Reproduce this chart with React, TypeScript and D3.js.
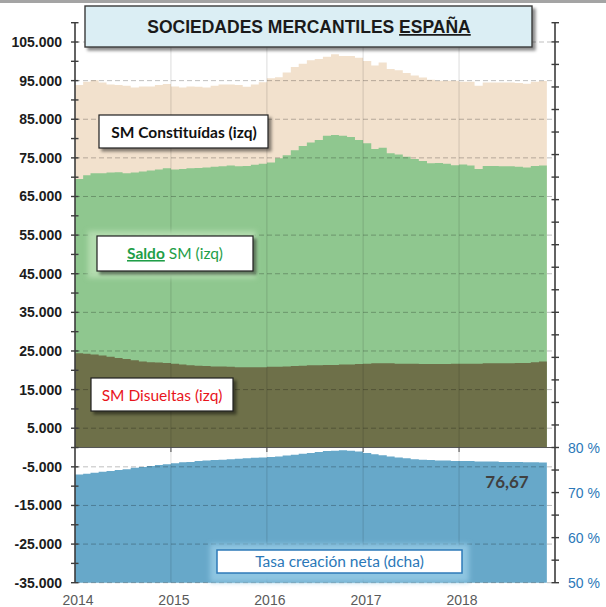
import React, { useEffect, useRef } from 'react';
import * as d3 from 'd3';

// monthly data, Jan 2014 - Nov 2018 (12-month rolling)
const firstMonth = new Date(2014, 0, 1);
const stopMonth = new Date(2018, 11, 1);
const yearLabels = ['2014', '2015', '2016', '2017', '2018'];

const constituidas = [
  93900, 94700, 95100, 94500, 94000, 93900, 93700, 93200, 93500, 93500, 93900, 94100,
  93500, 93200, 93500, 93400, 93200, 93700, 94000, 94000, 93900, 93400, 94000, 94600,
  95600, 95900, 97100, 98500, 99400, 100300, 100600, 101200, 101800, 101400, 101400, 100900,
  100100, 98900, 99700, 98000, 97700, 97000, 96300, 95800, 95200, 95000, 95000, 95000,
  94700, 94700, 93700, 94500, 94500, 94500, 94500, 94400, 94200, 94700, 94900
];

const saldo = [
  69500, 70500, 71000, 71000, 71200, 71300, 71000, 71200, 71500, 71700, 72000, 72300,
  72000, 72100, 72300, 72400, 72500, 72700, 72800, 73000, 72800, 72900, 73200, 73500,
  73800, 74900, 75700, 77000, 78100, 79000, 79600, 80700, 80900, 80700, 80400, 79600,
  78800, 77300, 77600, 76200, 75900, 75300, 74700, 74200, 73600, 73700, 73500, 73100,
  73300, 73000, 72100, 72900, 72900, 72800, 72800, 72700, 72500, 72900, 73000
];

const disueltas = [
  24400, 24300, 24100, 23800, 23500, 23200, 22900, 22600, 22300, 22100, 22000, 21900,
  21700, 21500, 21300, 21200, 21100, 21000, 21000, 20900, 20800, 20800, 20800, 20800,
  20900, 20900, 21000, 21100, 21200, 21300, 21300, 21400, 21400, 21500, 21500, 21600,
  21700, 21800, 21800, 21800, 21700, 21700, 21700, 21600, 21600, 21600, 21600, 21700,
  21700, 21700, 21700, 21800, 21800, 21800, 21800, 21900, 21900, 22100, 22300
];

// tasa de creación neta (%), eje derecho
const tasa = [
  74.0, 74.2, 74.4, 74.6, 74.8, 75.0, 75.2, 75.5, 75.7, 75.9, 76.1, 76.3,
  76.5, 76.7, 76.8, 77.0, 77.1, 77.2, 77.3, 77.4, 77.5, 77.6, 77.7, 77.8,
  77.9, 78.0, 78.2, 78.4, 78.6, 78.8, 79.0, 79.2, 79.3, 79.4, 79.3, 79.1,
  78.8, 78.5, 78.3, 78.0, 77.8, 77.6, 77.4, 77.3, 77.2, 77.1, 77.1, 77.0,
  77.0, 77.0, 76.9, 76.9, 76.9, 76.8, 76.8, 76.8, 76.7, 76.7, 76.67
];
const lastTasaLabel = '76,67';

const leftTickLabels = [105000, 95000, 85000, 75000, 65000, 55000, 45000, 35000, 25000, 15000, 5000, -5000, -15000, -25000, -35000];
const rightTickLabels = [80, 70, 60, 50];

const esLocale = d3.formatLocale({ decimal: ',', thousands: '.', grouping: [3], currency: ['', '€'], minus: '-' });
const fmt = esLocale.format(',');

export default function App() {
  const ref = useRef<SVGSVGElement>(null);

  useEffect(() => {
    const svg = d3.select(ref.current);
    svg.selectAll('*').remove();

    const x = d3.scaleTime().domain([new Date(2014, 0, 1), new Date(2019, 0, 1)]).range([75, 555]);
    const y = d3.scaleLinear().domain([-35000, 110000]).range([582.7, 22.7]);
    const yR = d3.scaleLinear().domain([50, 80]).range([582.7, 447.5]);

    const months = d3.timeMonth.range(firstMonth, stopMonth);
    const pts = (vals: number[]) =>
      months.map((m, i) => ({ d: m, v: vals[i] })).concat([{ d: stopMonth, v: vals[vals.length - 1] }]);

    const defs = svg.append('defs');
    const sh = defs.append('filter').attr('id', 'shadow').attr('x', '-10%').attr('y', '-20%').attr('width', '130%').attr('height', '160%');
    sh.append('feDropShadow').attr('dx', 3).attr('dy', 3).attr('stdDeviation', 1.5)
      .attr('flood-color', '#000').attr('flood-opacity', 0.45);
    const glow = defs.append('filter').attr('id', 'glow').attr('x', '-20%').attr('y', '-40%').attr('width', '140%').attr('height', '180%');
    glow.append('feGaussianBlur').attr('stdDeviation', 2.5);

    svg.append('rect').attr('x', 0).attr('y', 0).attr('width', 606).attr('height', 607).attr('fill', '#fff');
    svg.append('rect').attr('x', 0).attr('y', 0).attr('width', 606).attr('height', 3).attr('fill', '#a4a4a4');

    const areaL = d3.area<{ d: Date; v: number }>()
      .x(p => x(p.d)).y0(y(0)).y1(p => y(p.v)).curve(d3.curveStepAfter);
    const areaR = d3.area<{ d: Date; v: number }>()
      .x(p => x(p.d)).y0(yR(50)).y1(p => yR(p.v)).curve(d3.curveStepAfter);

    svg.append('path').attr('d', areaL(pts(constituidas))).attr('fill', '#f2e1cd');
    svg.append('path').attr('d', areaL(pts(saldo))).attr('fill', '#8fc78f');
    svg.append('path').attr('d', areaL(pts(disueltas))).attr('fill', '#6e7049');
    svg.append('path').attr('d', areaR(pts(tasa))).attr('fill', '#67a8c9');

    // grid
    const yearTicks = yearLabels.map(s => new Date(+s, 0, 1));
    svg.append('g').selectAll('line').data(yearTicks.slice(1)).enter().append('line')
      .attr('x1', d => x(d)).attr('x2', d => x(d)).attr('y1', y(110000)).attr('y2', y(-35000))
      .attr('stroke', '#000').attr('stroke-opacity', 0.14);
    svg.append('g').selectAll('line').data(leftTickLabels).enter().append('line')
      .attr('x1', 75).attr('x2', 555).attr('y1', d => y(d)).attr('y2', d => y(d))
      .attr('stroke', '#000').attr('stroke-opacity', 0.25).attr('stroke-dasharray', '5,3');

    // zero line + year ticks
    svg.append('line').attr('x1', 75).attr('x2', 555).attr('y1', y(0)).attr('y2', y(0))
      .attr('stroke', '#555').attr('stroke-width', 1);
    svg.append('g').selectAll('line').data(yearTicks.slice(1)).enter().append('line')
      .attr('x1', d => x(d)).attr('x2', d => x(d)).attr('y1', y(0)).attr('y2', y(0) + 4.5)
      .attr('stroke', '#444');

    // left axis
    const axisCol = '#3c3c3c';
    svg.append('line').attr('x1', 75).attr('x2', 75).attr('y1', y(110000)).attr('y2', y(-35000))
      .attr('stroke', axisCol).attr('stroke-width', 1.6);
    svg.append('g').selectAll('line').data(d3.range(-35000, 110001, 5000)).enter().append('line')
      .attr('x1', 71).attr('x2', 78.5).attr('y1', d => y(d)).attr('y2', d => y(d))
      .attr('stroke', axisCol).attr('stroke-width', 1.4);
    svg.append('g').selectAll('text').data(leftTickLabels).enter().append('text')
      .attr('x', 62).attr('y', d => y(d) + 5).attr('text-anchor', 'end')
      .attr('font-family', 'Liberation Sans, Arial, sans-serif').attr('font-weight', 'bold')
      .attr('font-size', 14).attr('fill', '#1c1c1c').text(d => fmt(d));

    // right axis
    svg.append('line').attr('x1', 555).attr('x2', 555).attr('y1', y(110000)).attr('y2', y(-35000))
      .attr('stroke', axisCol).attr('stroke-width', 1.6);
    svg.append('g').selectAll('line').data(d3.range(50, 171, 5)).enter().append('line')
      .attr('x1', 551.5).attr('x2', 559).attr('y1', d => yR(d)).attr('y2', d => yR(d))
      .attr('stroke', axisCol).attr('stroke-width', 1.4);
    svg.append('line').attr('x1', 551.5).attr('x2', 559).attr('y1', y(110000)).attr('y2', y(110000))
      .attr('stroke', axisCol).attr('stroke-width', 1.4);
    svg.append('g').selectAll('text').data(rightTickLabels).enter().append('text')
      .attr('x', 568).attr('y', d => yR(d) + 5)
      .attr('font-family', 'Liberation Sans, Arial, sans-serif')
      .attr('font-size', 14).attr('fill', '#2b78b8').text(d => `${d} %`);

    // x labels
    svg.append('g').selectAll('text').data(yearTicks).enter().append('text')
      .attr('x', d => x(d) + 3).attr('y', 605).attr('text-anchor', 'middle')
      .attr('font-family', 'Liberation Sans, Arial, sans-serif')
      .attr('font-size', 14).attr('fill', '#5a5a5a').text((d, i) => yearLabels[i]);

    // last value
    svg.append('text').attr('x', 507).attr('y', 488).attr('text-anchor', 'middle')
      .attr('font-family', 'Lato, sans-serif').attr('font-weight', 'bold')
      .attr('font-size', 17).attr('fill', '#404040').text(lastTasaLabel);

    // title
    svg.append('rect').attr('x', 85).attr('y', 6).attr('width', 447).attr('height', 41)
      .attr('fill', '#dbeef4').attr('stroke', '#3a3a3a').attr('stroke-width', 1.4).attr('filter', 'url(#shadow)');
    const title = svg.append('text').attr('x', 309).attr('y', 33).attr('text-anchor', 'middle')
      .attr('font-family', 'Liberation Sans, Arial, sans-serif').attr('font-weight', 'bold')
      .attr('font-size', 17.5).attr('fill', '#1a1a1a');
    title.append('tspan').text('SOCIEDADES MERCANTILES ');
    title.append('tspan').attr('text-decoration', 'underline').text('ESPAÑA');

    const legendFont = 'Lato, Calibri, sans-serif';

    // SM Constituidas
    svg.append('rect').attr('x', 99).attr('y', 115).attr('width', 169).attr('height', 33)
      .attr('fill', '#fff').attr('stroke', '#1e1e1e').attr('stroke-width', 1.2).attr('filter', 'url(#shadow)');
    svg.append('text').attr('x', 184).attr('y', 138).attr('text-anchor', 'middle')
      .attr('font-family', legendFont).attr('font-weight', 'bold').attr('font-size', 15.5)
      .attr('fill', '#111').text('SM Constituídas (izq)');

    // Saldo
    svg.append('rect').attr('x', 88).attr('y', 231).attr('width', 168).attr('height', 47)
      .attr('fill', '#b2dcae').attr('filter', 'url(#glow)');
    svg.append('rect').attr('x', 97).attr('y', 236).attr('width', 156).attr('height', 35)
      .attr('fill', '#fff').attr('stroke', '#1e1e1e').attr('stroke-width', 1.2).attr('filter', 'url(#shadow)');
    const sal = svg.append('text').attr('x', 175).attr('y', 259).attr('text-anchor', 'middle')
      .attr('font-family', legendFont).attr('font-size', 15.5).attr('fill', '#1f9e48');
    sal.append('tspan').attr('font-weight', 'bold').attr('text-decoration', 'underline').text('Saldo');
    sal.append('tspan').text(' SM (izq)');

    // SM Disueltas
    svg.append('rect').attr('x', 91).attr('y', 378).attr('width', 142).attr('height', 33)
      .attr('fill', '#fff').attr('stroke', '#1e1e1e').attr('stroke-width', 1.2).attr('filter', 'url(#shadow)');
    svg.append('text').attr('x', 162).attr('y', 401).attr('text-anchor', 'middle')
      .attr('font-family', legendFont).attr('font-size', 15.5).attr('fill', '#e8141c')
      .text('SM Disueltas (izq)');

    // Tasa
    svg.append('rect').attr('x', 210).attr('y', 544).attr('width', 259).attr('height', 38)
      .attr('fill', '#8ec5e1').attr('filter', 'url(#glow)');
    svg.append('rect').attr('x', 217).attr('y', 550).attr('width', 245).attr('height', 23)
      .attr('fill', '#fff').attr('stroke', '#2e7ab8').attr('stroke-width', 1.5);
    svg.append('text').attr('x', 339.5).attr('y', 567).attr('text-anchor', 'middle')
      .attr('font-family', legendFont).attr('font-size', 15.5).attr('fill', '#2b78b8')
      .text('Tasa creación neta (dcha)');
  }, []);

  return (
    <div style={{ position: 'absolute', left: 0, top: 0 }}>
      <svg ref={ref} width={606} height={607} />
    </div>
  );
}
